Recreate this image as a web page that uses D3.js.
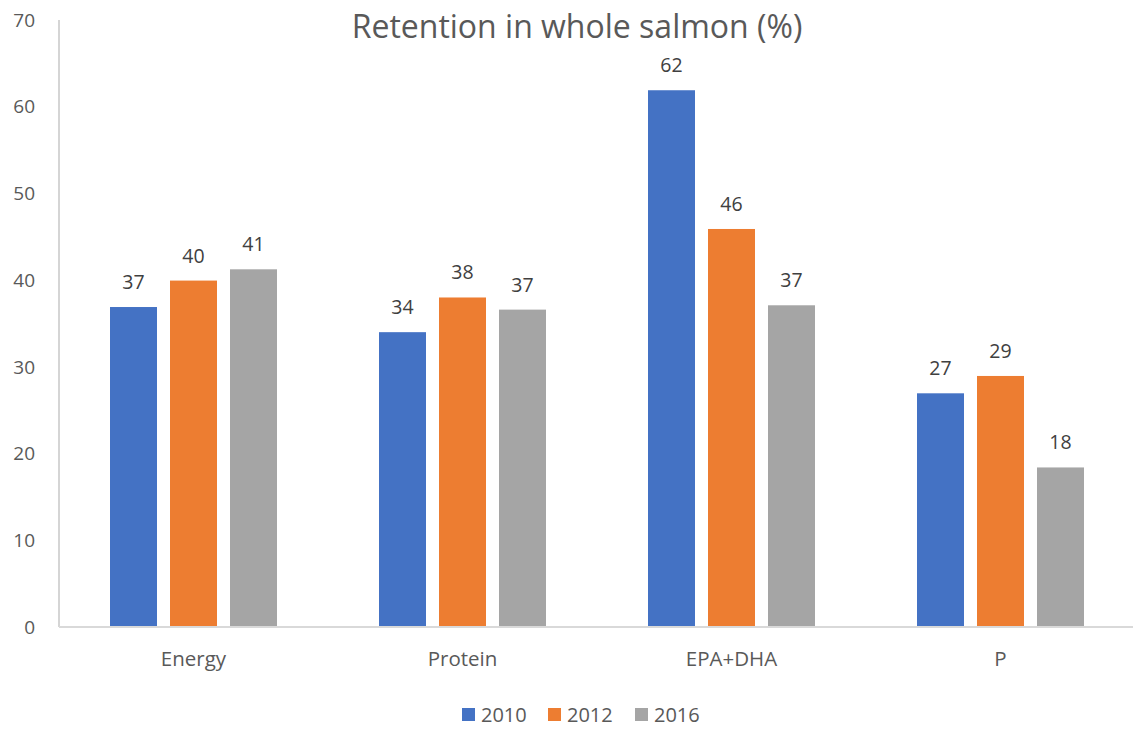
<!DOCTYPE html>
<html>
<head>
<meta charset="utf-8">
<script src="https://cdn.jsdelivr.net/npm/d3@7"></script>
<style>
  body { margin: 0; background: #fff; }
  text { font-family: "Open Sans", sans-serif; }
</style>
</head>
<body>
<svg id="chart"></svg>
<script>
// Chart data
const categories = ["Energy", "Protein", "EPA+DHA", "P"];
const years = ["2010", "2012", "2016"];
const values2010 = [36.9, 34.0, 61.9, 26.95];
const values2012 = [39.95, 38.0, 45.9, 28.95];
const values2016 = [41.25, 36.6, 37.1, 18.4];
const yTicks = [0, 10, 20, 30, 40, 50, 60, 70];
const colors = ["#4472c4", "#ed7d31", "#a5a5a5"];

const series = [values2010, values2012, values2016];

const W = 1133, H = 731;
const margin = { top: 20, right: 0, bottom: 104, left: 59 };
const width = W - margin.left - margin.right;
const height = H - margin.top - margin.bottom;

const svg = d3.select("#chart")
  .attr("width", W)
  .attr("height", H)
  .append("g")
  .attr("transform", "translate(" + margin.left + "," + margin.top + ")");

// Scales
const x = d3.scaleBand()
  .domain(categories)
  .range([0, 269 * 4])
  .paddingInner(0)
  .paddingOuter(0);

const x1 = d3.scaleBand()
  .domain(years)
  .range([51, 269 - 51])
  .paddingInner(13 / 60);

const y = d3.scaleLinear()
  .domain([0, 70])
  .range([height, 0]);

// Y axis (labels only + thin line)
svg.append("line")
  .attr("x1", 0).attr("x2", 0)
  .attr("y1", 0).attr("y2", height)
  .attr("stroke", "#bfbfbf")
  .attr("stroke-width", 1.3);

svg.selectAll(".ytick")
  .data(yTicks)
  .enter().append("text")
  .attr("class", "ytick")
  .attr("x", -24)
  .attr("y", d => y(d))
  .attr("dy", "0.35em")
  .attr("text-anchor", "end")
  .attr("fill", "#595959")
  .style("font-size", "19px")
  .text(d => d);

// Bars
const groups = svg.selectAll(".group")
  .data(categories)
  .enter().append("g")
  .attr("class", "group")
  .attr("transform", d => "translate(" + x(d) + ",0)");

groups.selectAll("rect")
  .data((d, i) => years.map((yr, j) => ({ year: yr, value: series[j][i], color: colors[j] })))
  .enter().append("rect")
  .attr("x", d => x1(d.year))
  .attr("y", d => y(d.value))
  .attr("width", x1.bandwidth())
  .attr("height", d => height - y(d.value))
  .attr("fill", d => d.color);

groups.selectAll(".bar-label")
  .data((d, i) => years.map((yr, j) => ({ year: yr, value: series[j][i] })))
  .enter().append("text")
  .attr("class", "bar-label")
  .attr("x", d => x1(d.year) + x1.bandwidth() / 2)
  .attr("y", d => y(d.value) - 18)
  .attr("text-anchor", "middle")
  .attr("fill", "#404040")
  .style("font-size", "19.5px")
  .text(d => d3.format(".0f")(d.value));

// X baseline
svg.append("line")
  .attr("x1", 0).attr("x2", width)
  .attr("y1", height).attr("y2", height)
  .attr("stroke", "#d9d9d9")
  .attr("stroke-width", 2);

// Category labels
svg.selectAll(".xlabel")
  .data(categories)
  .enter().append("text")
  .attr("class", "xlabel")
  .attr("x", d => x(d) + x.bandwidth() / 2)
  .attr("y", height + 39)
  .attr("text-anchor", "middle")
  .attr("fill", "#595959")
  .style("font-size", "20.5px")
  .text(d => d);

// Title
svg.append("text")
  .attr("x", 577 - margin.left)
  .attr("y", 38 - margin.top)
  .attr("text-anchor", "middle")
  .attr("fill", "#595959")
  .style("font-size", "32px")
  .text("Retention in whole salmon (%)");

// Legend
const legendX = [462, 548, 635];
const legend = d3.select("#chart").append("g");
const items = legend.selectAll(".legend")
  .data(years)
  .enter().append("g")
  .attr("transform", (d, i) => "translate(" + legendX[i] + ",708)");

items.append("rect")
  .attr("width", 13)
  .attr("height", 13)
  .attr("fill", (d, i) => colors[i]);

items.append("text")
  .attr("x", 19)
  .attr("y", 7)
  .attr("dy", "0.35em")
  .attr("fill", "#595959")
  .style("font-size", "20px")
  .text(d => d);
</script>
</body>
</html>
